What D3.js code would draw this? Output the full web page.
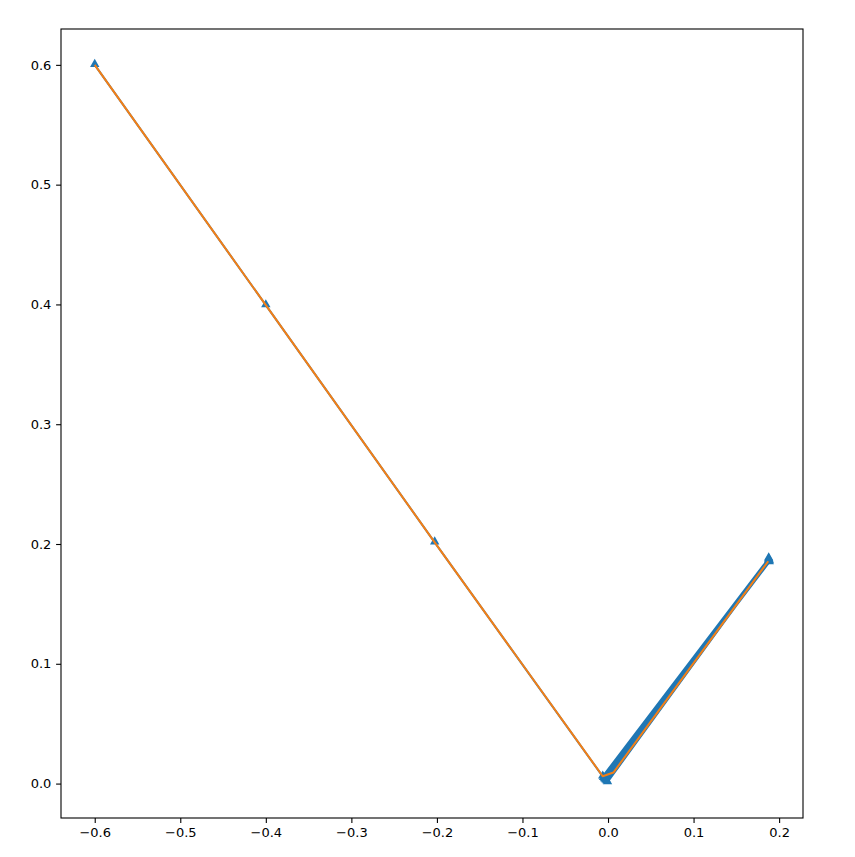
<!DOCTYPE html>
<html>
<head>
<meta charset="utf-8">
<script src="https://cdn.jsdelivr.net/npm/d3@7"></script>
<style>
  html, body { margin: 0; padding: 0; background: #fff; }
  svg { display: block; }
  text { font-family: "DejaVu Sans", sans-serif; }
</style>
</head>
<body>
<svg id="chart" width="855" height="857"></svg>
<script>
// Blue series (triangle markers + line)
const blueX = [-0.6, -0.4, -0.2026, -0.0062, 0.1878, -0.0052, 0.1885, -0.0040, 0.1880, -0.0028, 0.1883, -0.0016, 0.1879, -0.0006, 0.1882];
const blueY = [0.6, 0.3994, 0.2014, 0.0060, 0.1880, 0.0048, 0.1848, 0.0038, 0.1866, 0.0028, 0.1857, 0.0020, 0.1872, 0.0012, 0.1862];
// Orange series (line only)
const orangeX = [-0.6, -0.4, -0.2026, -0.0062, 0.0063, 0.1873];
const orangeY = [0.6, 0.3994, 0.2014, 0.0061, 0.0092, 0.1856];
// Tick values
const xTicks = [-0.6, -0.5, -0.4, -0.3, -0.2, -0.1, 0.0, 0.1, 0.2];
const yTicks = [0.0, 0.1, 0.2, 0.3, 0.4, 0.5, 0.6];

const svg = d3.select("#chart");
const L = 61, R = 803, T = 29, B = 818;

const allX = blueX.concat(orangeX), allY = blueY.concat(orangeY);
const [x0, x1] = d3.extent(allX), [y0, y1] = d3.extent(allY);
const mx = (x1 - x0) * 0.05, my = (y1 - y0) * 0.05;
const x = d3.scaleLinear().domain([x0 - mx, x1 + mx]).range([L, R]);
const y = d3.scaleLinear().domain([y0 - my, y1 + my]).range([B, T]);

const fmt = v => d3.format(".1f")(v).replace("-", "\u2212");

const xAxis = d3.axisBottom(x).tickValues(xTicks).tickFormat(fmt).tickSize(4.9).tickPadding(4.8);
const yAxis = d3.axisLeft(y).tickValues(yTicks).tickFormat(fmt).tickSize(4.9).tickPadding(4.8);

const gx = svg.append("g").attr("transform", `translate(0,${B})`).call(xAxis);
const gy = svg.append("g").attr("transform", `translate(${L},0)`).call(yAxis);
[gx, gy].forEach(g => {
  g.select(".domain").remove();
  g.selectAll(".tick line").attr("stroke", "#000").attr("stroke-width", 1.1);
  g.selectAll(".tick text").attr("fill", "#000").style("font-size", "13px").style("font-family", "DejaVu Sans, sans-serif");
});

const plot = svg.append("g");

const blue = blueX.map((v, i) => [v, blueY[i]]);
const orange = orangeX.map((v, i) => [v, orangeY[i]]);
const line = d3.line().x(d => x(d[0])).y(d => y(d[1]));

plot.append("path").datum(blue).attr("d", line)
  .attr("fill", "none").attr("stroke", "#1f77b4").attr("stroke-width", 2).attr("stroke-linejoin", "round");

const tri = d3.symbol().type(d3.symbolTriangle).size(38);
plot.selectAll(".m").data(blue).join("path")
  .attr("transform", d => `translate(${x(d[0])},${y(d[1]) - 0.6})`)
  .attr("d", tri).attr("fill", "#1f77b4");

plot.append("path").datum(orange).attr("d", line)
  .attr("fill", "none").attr("stroke", "#ff7f0e").attr("stroke-width", 2).attr("stroke-linejoin", "round")
  .attr("opacity", 0.95);

// Frame
svg.append("rect").attr("x", L).attr("y", T).attr("width", R - L).attr("height", B - T)
  .attr("fill", "none").attr("stroke", "#000").attr("stroke-width", 1.1);
</script>
</body>
</html>
